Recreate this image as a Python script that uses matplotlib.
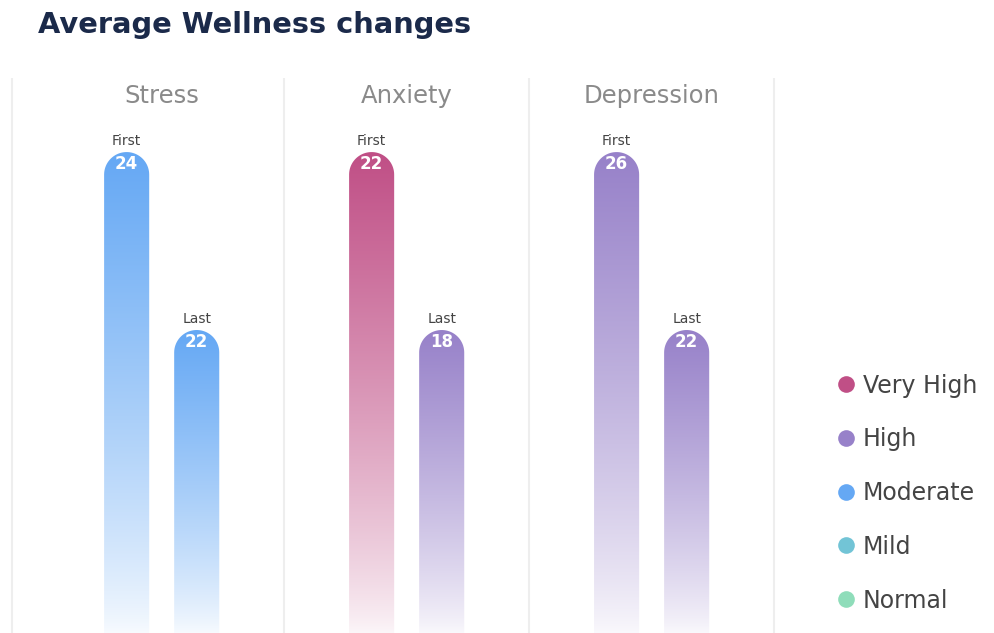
import numpy as np
import matplotlib.pyplot as plt
from matplotlib.colors import to_rgb
from matplotlib.path import Path
from matplotlib.patches import PathPatch
from matplotlib.lines import Line2D

plt.rcParams['font.family'] = ['DejaVu Sans']

metrics = ['Stress', 'Anxiety', 'Depression']
first_scores = [24, 22, 26]
last_scores = [22, 18, 22]
first_level = ['Moderate', 'Very High', 'High']
last_level = ['Moderate', 'High', 'High']
# bar heights as drawn (share of the tallest bar), not scaled to the score
first_height = [100, 100, 100]
last_height = [63, 63, 63]

levels = ['Very High', 'High', 'Moderate', 'Mild', 'Normal']
level_colors = ['#C04F86', '#9781C9', '#65A8F4', '#72C4D6', '#8FDDBA']
lvl_col = dict(zip(levels, level_colors))

fig = plt.figure(figsize=(9.95, 6.33), dpi=100)
ax = fig.add_axes([0, 0, 780 / 995, 555 / 633])
ax.set_xlim(-0.66, 2.524)
ax.set_ylim(0, 115.4)
ax.axis('off')

for xs in [-0.611, 0.5, 1.5, 2.5]:
    ax.axvline(xs, color='#EEEEEE', lw=1.5, zorder=0)

# data units per pixel, used to keep the rounded tops circular
p0 = ax.transData.transform((0, 0))
p1 = ax.transData.transform((1, 1))
dx_px = 1 / (p1[0] - p0[0])
dy_px = 1 / (p1[1] - p0[1])

width = 0.184
offset = 0.143
grad_n = 256


def gradient_bar(xc, h, color):
    x0, x1 = xc - width / 2, xc + width / 2
    rx = width / 2
    ry = rx / dx_px * dy_px
    t = np.linspace(np.pi, 0, 40)
    verts = [(x0, 0), (x0, h - ry)]
    verts += [(xc + rx * np.cos(a), h - ry + ry * np.sin(a)) for a in t]
    verts += [(x1, 0), (x0, 0)]
    codes = [Path.MOVETO] + [Path.LINETO] * (len(verts) - 2) + [Path.CLOSEPOLY]
    patch = PathPatch(Path(verts, codes), facecolor='none', edgecolor='none')
    ax.add_patch(patch)

    s = np.linspace(1, 0, grad_n)  # 1 at bottom -> 0 at top
    a = (1 - s) ** 0.8 * 0.95 + 0.05
    rgb = np.array(to_rgb(color))
    img = a[:, None] * rgb[None, :] + (1 - a[:, None])
    img = img[:, None, :]
    im = ax.imshow(img, extent=(x0, x1, 0, h), origin='lower',
                   aspect='auto', zorder=2, interpolation='bilinear')
    im.set_clip_path(patch)


for i, m in enumerate(metrics):
    bars = [(i - offset, first_height[i], first_scores[i], first_level[i], 'First'),
            (i + offset, last_height[i], last_scores[i], last_level[i], 'Last')]
    for xc, h, score, lvl, tag in bars:
        gradient_bar(xc, h, lvl_col[lvl])
        ax.annotate(tag, (xc, h), xytext=(0, 3), textcoords='offset points',
                    ha='center', va='bottom', fontsize=10, color='#444444')
        ax.annotate(str(score), (xc, h), xytext=(0, -8.5), textcoords='offset points',
                    ha='center', va='center', fontsize=12, fontweight='bold',
                    color='white', zorder=5)
    ax.text(i, 0.9676, m, transform=ax.get_xaxis_transform(), ha='center',
            va='center', fontsize=17.5, color='#8A8A8A')

fig.text(38 / 995, 1 - 25 / 633, 'Average Wellness changes', ha='left', va='center',
         fontsize=20.8, fontweight='bold', color='#1B2A4A')

handles = [Line2D([], [], marker='o', ls='none', markersize=12,
                  markerfacecolor=c, markeredgecolor='none') for c in level_colors]
fig.legend(handles, levels, loc='center left', bbox_to_anchor=(813 / 995, (633 - 493) / 633),
           frameon=False, fontsize=17, labelspacing=1.26, handletextpad=0.2,
           labelcolor='#444444', handlelength=1.0)

fig.savefig('out.png', dpi=100)
